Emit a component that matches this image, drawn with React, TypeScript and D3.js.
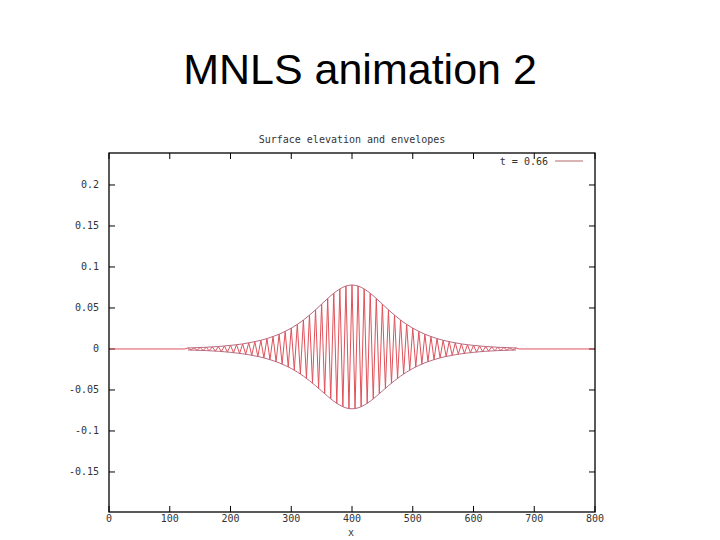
import React from "react";
import * as d3 from "d3";

// surface elevation at crests / troughs, x = 130..670 every 5
const elevStart = 130;
const elevStep = 5;
const elevation = [
  0.0013, -0.0013, 0.0015, -0.0015, 0.0018, -0.0018, 0.0021, -0.0022, 0.0026, -0.0026,
  0.003, -0.0031, 0.0037, -0.0038, 0.0044, -0.0045, 0.0052, -0.0054, 0.0062, -0.0064,
  0.0075, -0.0077, 0.009, -0.0091, 0.0106, -0.0109, 0.0127, -0.013, 0.0152, -0.0155,
  0.018, -0.0184, 0.0215, -0.0219, 0.0254, -0.0258, 0.03, -0.0305, 0.0353, -0.0358,
  0.0413, -0.0417, 0.0478, -0.048, 0.0547, -0.0545, 0.0616, -0.0607, 0.068, -0.0663,
  0.0732, -0.0704, 0.0768, -0.0727, 0.078,
  -0.0727, 0.0768, -0.0704, 0.0732, -0.0663, 0.068, -0.0607, 0.0616, -0.0545, 0.0547,
  -0.048, 0.0478, -0.0417, 0.0413, -0.0358, 0.0353, -0.0305, 0.03, -0.0258, 0.0254,
  -0.0219, 0.0215, -0.0184, 0.018, -0.0155, 0.0152, -0.013, 0.0127, -0.0109, 0.0106,
  -0.0091, 0.009, -0.0077, 0.0075, -0.0064, 0.0062, -0.0054, 0.0052, -0.0045, 0.0044,
  -0.0038, 0.0037, -0.0031, 0.003, -0.0026, 0.0026, -0.0022, 0.0021, -0.0018, 0.0018,
  -0.0015, 0.0015, -0.0013, 0.0013,
];

// envelopes, x = 130..670 every 10
const envStart = 130;
const envStep = 10;
const upperEnv = [
  0.0013, 0.0015, 0.0018, 0.0021, 0.0026, 0.003, 0.0037, 0.0044, 0.0052, 0.0062,
  0.0075, 0.009, 0.0106, 0.0127, 0.0152, 0.018, 0.0215, 0.0254, 0.03, 0.0353,
  0.0413, 0.0478, 0.0547, 0.0616, 0.068, 0.0732, 0.0768, 0.078, 0.0768, 0.0732,
  0.068, 0.0616, 0.0547, 0.0478, 0.0413, 0.0353, 0.03, 0.0254, 0.0215, 0.018,
  0.0152, 0.0127, 0.0106, 0.009, 0.0075, 0.0062, 0.0052, 0.0044, 0.0037, 0.003,
  0.0026, 0.0021, 0.0018, 0.0015, 0.0013,
];
const lowerEnv = [
  -0.0012, -0.0014, -0.0017, -0.002, -0.0024, -0.0028, -0.0034, -0.0041, -0.0049, -0.0058,
  -0.007, -0.0084, -0.0099, -0.0119, -0.0142, -0.0169, -0.0201, -0.0238, -0.0281, -0.0331,
  -0.0387, -0.0447, -0.0512, -0.0577, -0.0637, -0.0685, -0.0718, -0.073, -0.0718, -0.0685,
  -0.0637, -0.0577, -0.0512, -0.0447, -0.0387, -0.0331, -0.0281, -0.0238, -0.0201, -0.0169,
  -0.0142, -0.0119, -0.0099, -0.0084, -0.007, -0.0058, -0.0049, -0.0041, -0.0034, -0.0028,
  -0.0024, -0.002, -0.0017, -0.0014, -0.0012,
];

const xTicks = [0, 100, 200, 300, 400, 500, 600, 700, 800];
const xTickLabels = ["0", "100", "200", "300", "400", "500", "600", "700", "800"];
const yTicks = [0.2, 0.15, 0.1, 0.05, 0, -0.05, -0.1, -0.15];
const yTickLabels = ["0.2", "0.15", "0.1", "0.05", "0", "-0.05", "-0.1", "-0.15"];
const xDomain = [0, 800];
const yDomain = [-0.1988, 0.239];

const mono = "'DejaVu Sans Mono', monospace";
const waveColor = "#e0525a";
const envColor = "#b86a80";

export default function App() {
  const left = 109, right = 595, top = 153, bottom = 512;
  const x = d3.scaleLinear().domain(xDomain).range([left, right]);
  const y = d3.scaleLinear().domain(yDomain).range([bottom, top]);

  const elevPts: [number, number][] = [[0, 0]];
  elevation.forEach((v, i) => elevPts.push([elevStart + i * elevStep, v]));
  elevPts.push([800, 0]);
  // flat before/after the packet
  elevPts.splice(1, 0, [elevStart - elevStep, 0]);
  elevPts.splice(elevPts.length - 1, 0, [elevStart + elevation.length * elevStep, 0]);

  const line = d3
    .line<[number, number]>()
    .x((d) => x(d[0]))
    .y((d) => y(d[1]));

  const upPts = upperEnv.map((v, i) => [envStart + i * envStep, v] as [number, number]);
  const loPts = lowerEnv.map((v, i) => [envStart + i * envStep, v] as [number, number]);
  const smooth = d3
    .line<[number, number]>()
    .x((d) => x(d[0]))
    .y((d) => y(d[1]))
    .curve(d3.curveMonotoneX);

  const tick = 6;

  return (
    <svg
      width={720}
      height={540}
      style={{ position: "absolute", left: 0, top: 0, background: "#fff" }}
    >
      <text
        x={360}
        y={84}
        textAnchor="middle"
        fontFamily="'Liberation Sans', Arial, sans-serif"
        fontSize={43}
        fill="#000"
      >
        MNLS animation 2
      </text>
      <text x={352} y={143} textAnchor="middle" fontFamily={mono} fontSize={10} fill="#333">
        Surface elevation and envelopes
      </text>

      {/* ticks */}
      <g stroke="#000" strokeWidth={1}>
        {xTicks.map((t) => (
          <g key={"xt" + t}>
            <line x1={x(t)} x2={x(t)} y1={bottom} y2={bottom - tick} />
            <line x1={x(t)} x2={x(t)} y1={top} y2={top + tick} />
          </g>
        ))}
        {yTicks.map((t) => (
          <g key={"yt" + t}>
            <line x1={left} x2={left + tick} y1={y(t)} y2={y(t)} />
            <line x1={right} x2={right - tick} y1={y(t)} y2={y(t)} />
          </g>
        ))}
      </g>

      {/* data */}
      <path d={line(elevPts) ?? ""} fill="none" stroke={waveColor} strokeWidth={1} />
      <path d={smooth(upPts) ?? ""} fill="none" stroke={envColor} strokeWidth={1} />
      <path d={smooth(loPts) ?? ""} fill="none" stroke={envColor} strokeWidth={1} />

      <rect
        x={left}
        y={top}
        width={right - left}
        height={bottom - top}
        fill="none"
        stroke="#000"
        strokeWidth={1.3}
      />

      {/* tick labels */}
      {xTicks.map((t, i) => (
        <text
          key={"xl" + t}
          x={x(t)}
          y={522}
          textAnchor="middle"
          fontFamily={mono}
          fontSize={10}
          fill="#333"
        >
          {xTickLabels[i]}
        </text>
      ))}
      {yTicks.map((t, i) => (
        <text
          key={"yl" + t}
          x={99}
          y={y(t) + 3.5}
          textAnchor="end"
          fontFamily={mono}
          fontSize={10}
          fill="#333"
        >
          {yTickLabels[i]}
        </text>
      ))}
      <text x={351} y={536} textAnchor="middle" fontFamily={mono} fontSize={10} fill="#333">
        x
      </text>

      {/* legend */}
      <text x={548} y={165} textAnchor="end" fontFamily={mono} fontSize={10} fill="#333">
        t = 0.66
      </text>
      <line x1={555} x2={583} y1={161} y2={161} stroke="#b06868" strokeWidth={1} />
    </svg>
  );
}
